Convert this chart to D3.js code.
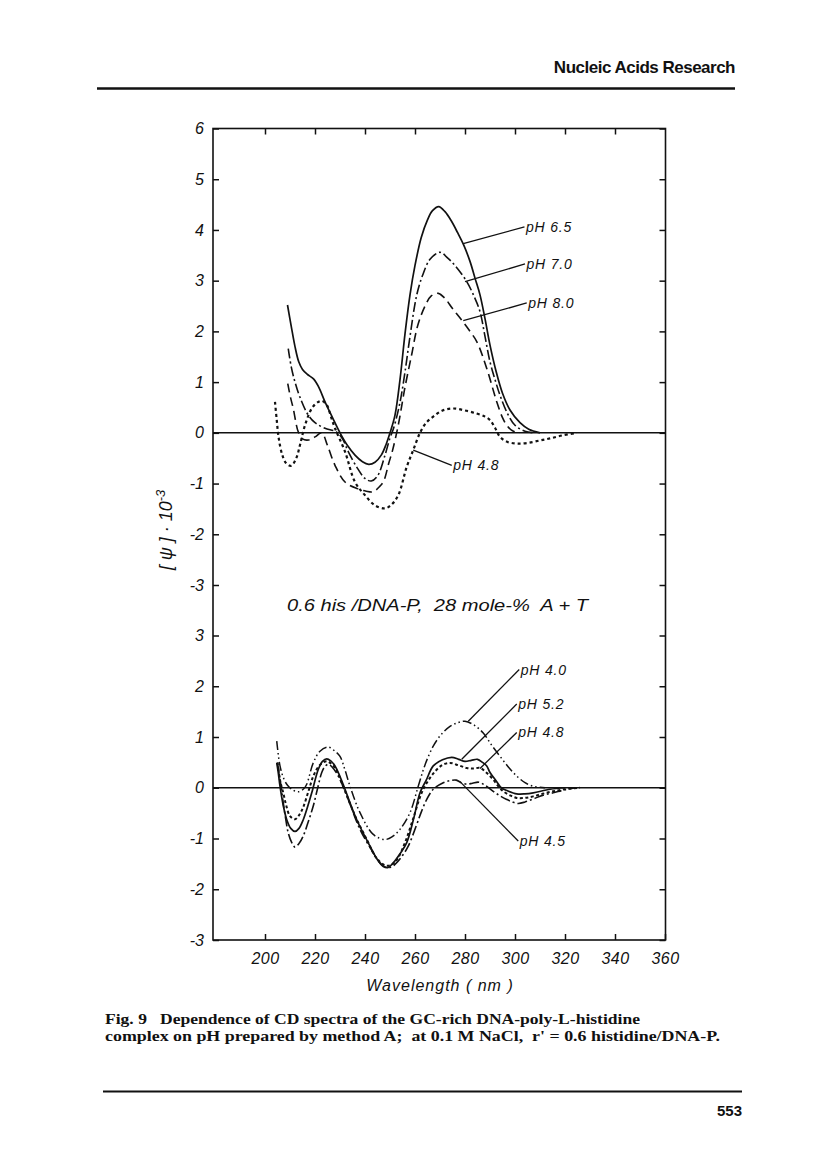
<!DOCTYPE html>
<html>
<head>
<meta charset="utf-8">
<script src="https://cdn.jsdelivr.net/npm/d3@7"></script>
<style>
  body { margin: 0; background: #fff; }
  text { fill: #111; white-space: pre; }
</style>
</head>
<body>
<div id="chart"></div>
<script>
// ---- data (wavelength in nm, [psi] * 10^-3) ----

// upper panel
const ph65Nm  = [209, 210.5, 212, 213.5, 215, 217, 219.5, 221.5, 224, 227, 230, 233, 236, 239, 241.5, 244, 246.5, 248.5, 250, 252, 254, 256, 258, 260, 262.5, 265, 267, 269.5, 272, 274.5, 277, 279.5, 282, 284, 286, 288, 290, 292.5, 295, 298, 302, 305.5, 310];
const ph65Val = [2.52, 2.1, 1.7, 1.4, 1.25, 1.15, 1.06, 0.9, 0.61, 0.3, 0.0, -0.25, -0.44, -0.57, -0.62, -0.58, -0.44, -0.22, 0.0, 0.35, 1.05, 1.95, 2.72, 3.3, 3.85, 4.2, 4.38, 4.46, 4.36, 4.18, 3.95, 3.7, 3.38, 3.05, 2.72, 2.25, 1.73, 1.2, 0.78, 0.45, 0.2, 0.07, 0.0];

const ph70Nm  = [209.3, 210.5, 212, 214, 217.3, 220, 224, 228.5, 231, 233.3, 237, 240, 242.5, 245, 248, 250, 251.5, 254, 256, 258, 260.7, 263, 266, 270, 273, 276, 280.7, 284, 286, 288, 290, 292, 294, 297, 300, 304, 308];
const ph70Val = [1.66, 1.3, 1.0, 0.7, 0.35, 0.2, 0.09, 0.02, -0.12, -0.37, -0.7, -0.9, -0.95, -0.85, -0.44, -0.1, 0.1, 0.6, 1.2, 1.9, 2.72, 3.1, 3.42, 3.56, 3.45, 3.3, 2.98, 2.65, 2.39, 1.9, 1.4, 1.05, 0.74, 0.38, 0.15, 0.03, 0.0];

const ph80Nm  = [209.1, 210.2, 211.3, 213.3, 215, 217.5, 220, 222.7, 225, 228, 232, 237, 240.5, 243.3, 246, 247.5, 249.5, 251, 253.3, 256, 258.7, 261, 264, 266.5, 269.3, 272, 275, 278.7, 282, 284.7, 288.7, 292.7, 295, 296.7, 299, 302];
const ph80Val = [0.97, 0.7, 0.48, 0.02, -0.12, -0.14, -0.08, 0.0, -0.25, -0.64, -0.97, -1.1, -1.15, -1.16, -1.05, -0.95, -0.6, -0.35, 0.15, 0.9, 1.55, 2.1, 2.5, 2.7, 2.75, 2.65, 2.45, 2.22, 2.0, 1.8, 1.27, 0.61, 0.3, 0.15, 0.04, 0.0];

const ph48aNm  = [204, 204.7, 205.5, 207, 208.5, 210.5, 212.5, 214, 216, 218.7, 221, 222.7, 224.7, 226.5, 228, 232, 236, 240, 244, 248, 250.5, 253.3, 256.7, 259.3, 262, 264.5, 267.3, 271, 275.3, 280, 284.7, 288, 290, 292, 294, 297, 300.7, 305, 310, 314, 319, 324.7];
const ph48aVal = [0.61, 0.25, -0.11, -0.45, -0.6, -0.65, -0.5, -0.24, 0.15, 0.48, 0.6, 0.63, 0.55, 0.3, 0.09, -0.37, -0.97, -1.23, -1.43, -1.49, -1.42, -1.23, -0.67, -0.34, 0.0, 0.2, 0.32, 0.44, 0.48, 0.44, 0.38, 0.32, 0.25, 0.1, -0.08, -0.18, -0.21, -0.2, -0.15, -0.11, -0.05, 0.0];

// lower panel
const ph40Nm  = [204.7, 206, 207.5, 209, 211, 213.3, 215.5, 216.7, 219.3, 222, 225.3, 228, 230, 232, 234, 238, 243.3, 248, 251, 254, 258, 261.3, 264, 267.3, 270.5, 274, 277, 280, 283.5, 287.3, 290.5, 294, 297.5, 300.7, 304, 307.3, 312];
const ph40Val = [0.92, 0.43, 0.18, 0.05, -0.04, -0.08, -0.02, 0.07, 0.49, 0.72, 0.8, 0.72, 0.62, 0.35, 0.03, -0.49, -0.92, -1.02, -0.96, -0.82, -0.49, 0.03, 0.45, 0.82, 1.05, 1.21, 1.28, 1.31, 1.24, 1.08, 0.85, 0.62, 0.4, 0.23, 0.1, 0.03, 0.0];

const ph52Nm  = [204.7, 205.3, 206, 207.3, 208.7, 210.3, 212, 213.6, 215.3, 217, 218.7, 221.3, 223, 224.7, 226.3, 228, 230, 232, 236.7, 242, 245, 247.3, 249.3, 251.3, 254, 256.7, 259.5, 262, 264.5, 267.3, 271, 274.7, 277.5, 280, 282.5, 285, 287, 288.7, 290, 292.7, 294.5, 297, 300.7, 304, 307.3, 314, 320];
const ph52Val = [0.49, 0.3, 0.03, -0.35, -0.63, -0.8, -0.86, -0.8, -0.63, -0.38, -0.1, 0.36, 0.52, 0.57, 0.53, 0.43, 0.22, -0.03, -0.63, -1.15, -1.42, -1.55, -1.57, -1.48, -1.3, -1.08, -0.6, -0.1, 0.15, 0.43, 0.55, 0.6, 0.56, 0.52, 0.54, 0.56, 0.5, 0.43, 0.3, 0.12, 0.0, -0.06, -0.12, -0.12, -0.1, -0.03, 0.0];

const ph48bNm  = [205, 206, 207.3, 208.5, 210, 212, 213.5, 215.3, 217.5, 219.5, 222, 224.7, 227, 229, 231.5, 236, 241, 244.5, 248, 250.5, 253, 256, 259, 262.5, 265, 268, 271, 274, 277.5, 280.7, 283.5, 286, 288.5, 291.3, 293.5, 295.3, 298, 300.7, 304, 307.3, 311, 315.3, 320, 326];
const ph48bVal = [0.5, 0.15, -0.1, -0.35, -0.56, -0.62, -0.55, -0.38, -0.05, 0.25, 0.45, 0.52, 0.45, 0.3, 0.0, -0.55, -1.05, -1.38, -1.53, -1.52, -1.4, -1.08, -0.65, -0.12, 0.12, 0.32, 0.45, 0.49, 0.44, 0.39, 0.38, 0.39, 0.3, 0.16, 0.02, -0.07, -0.15, -0.2, -0.2, -0.17, -0.12, -0.07, -0.03, 0.0];

const ph45Nm  = [205, 205.8, 206.5, 207.3, 208.3, 209.3, 210.7, 212, 213.6, 215.3, 217.3, 219.3, 221, 222.7, 224, 225.3, 227, 229.3, 231, 233.3, 238, 243.3, 246, 248, 250, 252, 254.5, 257.3, 260.5, 262.5, 264.7, 267.3, 271.3, 274, 276.5, 278.5, 280.7, 283, 285.5, 288, 291.3, 294, 296.7, 299, 301.3, 304, 307.3, 311, 315.3, 320, 324.7];
const ph45Val = [0.49, 0.25, 0.0, -0.3, -0.62, -0.89, -1.08, -1.17, -1.1, -0.95, -0.67, -0.36, -0.02, 0.3, 0.42, 0.46, 0.4, 0.23, 0.05, -0.23, -0.82, -1.28, -1.48, -1.56, -1.57, -1.51, -1.37, -1.15, -0.75, -0.48, -0.23, -0.03, 0.1, 0.14, 0.15, 0.1, 0.07, 0.09, 0.11, 0.05, -0.07, -0.16, -0.23, -0.28, -0.31, -0.28, -0.22, -0.15, -0.1, -0.04, 0.0];

// axis ticks
const xTicks = [200, 220, 240, 260, 280, 300, 320, 340, 360];
const yTicksTop = [-3, -2, -1, 0, 1, 2, 3, 4, 5, 6];
const yTicksBot = [-3, -2, -1, 0, 1, 2, 3];

// curve labels: text, point on curve (nm, value), end of leader (nm, value)
const topLabels   = ["pH 6.5", "pH 7.0", "pH 8.0", "pH 4.8"];
const topPointNm  = [279.3, 280, 279.3, 259.3];
const topPointVal = [3.73, 2.98, 2.21, -0.34];
const topEndNm    = [303.8, 304, 304.7, 274.7];
const topEndVal   = [4.06, 3.33, 2.56, -0.64];

const botLabels   = ["pH 4.0", "pH 5.2", "pH 4.8", "pH 4.5"];
const botPointNm  = [281.3, 278.7, 286, 278];
const botPointVal = [1.31, 0.56, 0.38, 0.12];
const botEndNm    = [301.7, 300.7, 300.7, 301.3];
const botEndVal   = [2.33, 1.65, 1.09, -1.05];

// ---- layout ----
const W = 816, H = 1152;
const frameLeft = 213, frameRight = 665.5, frameTop = 128.5, frameBottom = 940;

const svg = d3.select("#chart")
  .append("svg")
    .attr("width", W)
    .attr("height", H);

const x = d3.scaleLinear().domain([200, 360]).range([265, 665]);
const yTop = d3.scaleLinear().domain([-3, 6]).range([585, frameTop]);
const yBot = d3.scaleLinear().domain([-3, 3]).range([frameBottom, 635.5]);

const chartFont = "'Liberation Sans', Arial, sans-serif";
const fmt = d => d < 0 ? "-" + Math.abs(d) : String(d);

// page header
svg.append("text")
  .attr("x", 735).attr("y", 73)
  .attr("text-anchor", "end")
  .style("font-family", chartFont)
  .style("font-weight", "bold")
  .style("font-size", "17px")
  .style("letter-spacing", "-0.5px")
  .text("Nucleic Acids Research");
svg.append("line")
  .attr("x1", 97).attr("x2", 735).attr("y1", 88.5).attr("y2", 88.5)
  .attr("stroke", "#111").attr("stroke-width", 2.5);

// frame
svg.append("rect")
  .attr("x", frameLeft).attr("y", frameTop)
  .attr("width", frameRight - frameLeft).attr("height", frameBottom - frameTop)
  .attr("fill", "none").attr("stroke", "#111").attr("stroke-width", 1.6);

// x axes (ticks point inward)
const xAxisBottom = svg.append("g")
  .attr("transform", "translate(0," + frameBottom + ")")
  .call(d3.axisBottom(x).tickValues(xTicks).tickSize(-6).tickPadding(13).tickFormat(fmt));
svg.append("g")
  .attr("transform", "translate(0," + frameTop + ")")
  .call(d3.axisTop(x).tickValues(xTicks.slice(0, -1)).tickSize(-6).tickFormat(""));

// y axes, upper and lower panel
function yAxes(scale, ticks) {
  svg.append("g")
    .attr("transform", "translate(" + frameLeft + ",0)")
    .call(d3.axisLeft(scale).tickValues(ticks).tickSize(-6).tickPadding(9).tickFormat(fmt));
  svg.append("g")
    .attr("transform", "translate(" + frameRight + ",0)")
    .call(d3.axisRight(scale).tickValues(ticks).tickSize(-6).tickFormat(""));
}
yAxes(yTop, yTicksTop);
yAxes(yBot, yTicksBot);

svg.selectAll(".domain").remove();
svg.selectAll(".tick line").attr("stroke", "#111").attr("stroke-width", 1.5);
svg.selectAll(".tick text")
  .style("font-family", chartFont)
  .style("font-style", "italic")
  .style("font-size", "16px")
  .attr("fill", "#111");
xAxisBottom.selectAll(".tick text").style("letter-spacing", "0.5px");

// zero lines
[yTop, yBot].forEach(function (s) {
  svg.append("line")
    .attr("x1", frameLeft).attr("x2", frameRight)
    .attr("y1", s(0)).attr("y2", s(0))
    .attr("stroke", "#111").attr("stroke-width", 1.5);
});

// curves
const series = [
  { nm: ph65Nm,  val: ph65Val,  y: yTop, style: "solid" },
  { nm: ph70Nm,  val: ph70Val,  y: yTop, style: "dashdot" },
  { nm: ph80Nm,  val: ph80Val,  y: yTop, style: "dashed" },
  { nm: ph48aNm, val: ph48aVal, y: yTop, style: "dotted" },
  { nm: ph40Nm,  val: ph40Val,  y: yBot, style: "dashdotdot" },
  { nm: ph52Nm,  val: ph52Val,  y: yBot, style: "solid" },
  { nm: ph48bNm, val: ph48bVal, y: yBot, style: "dotted2" },
  { nm: ph45Nm,  val: ph45Val,  y: yBot, style: "dashdot" }
];
const dashes = {
  solid: null,
  dashed: "9,5",
  dashdot: "10,3,2,3",
  dashdotdot: "9,3,1.5,3,1.5,3",
  dotted: "3,3",
  dotted2: "3,2.5"
};
const widths = { solid: 1.7, dashed: 1.6, dashdot: 1.6, dashdotdot: 1.5, dotted: 2.2, dotted2: 2 };

series.forEach(function (s) {
  const pts = s.nm.map((n, i) => [n, s.val[i]]);
  const line = d3.line()
    .x(d => x(d[0]))
    .y(d => s.y(d[1]))
    .curve(d3.curveCatmullRom.alpha(0.5));
  svg.append("path")
    .datum(pts)
    .attr("d", line)
    .attr("fill", "none")
    .attr("stroke", "#111")
    .attr("stroke-width", widths[s.style])
    .attr("stroke-dasharray", dashes[s.style]);
});

// leaders and curve labels
function labels(texts, pNm, pVal, eNm, eVal, scale) {
  texts.forEach(function (t, i) {
    svg.append("line")
      .attr("x1", x(pNm[i])).attr("y1", scale(pVal[i]))
      .attr("x2", x(eNm[i])).attr("y2", scale(eVal[i]))
      .attr("stroke", "#111").attr("stroke-width", 1.3);
    svg.append("text")
      .attr("x", x(eNm[i]) + 1.5)
      .attr("y", scale(eVal[i]) + 5)
      .style("font-family", chartFont)
      .style("font-style", "italic")
      .style("font-size", "14px")
      .style("letter-spacing", "0.8px")
      .text(t);
  });
}
labels(topLabels, topPointNm, topPointVal, topEndNm, topEndVal, yTop);
labels(botLabels, botPointNm, botPointVal, botEndNm, botEndVal, yBot);

// panel annotation
svg.append("text")
  .attr("x", 287).attr("y", 611)
  .attr("textLength", 301)
  .attr("lengthAdjust", "spacingAndGlyphs")
  .style("font-family", chartFont)
  .style("font-style", "italic")
  .style("font-size", "17px")
  .text("0.6 his /DNA-P,  28 mole-%  A + T");

// axis titles
svg.append("text")
  .attr("x", 440).attr("y", 991)
  .attr("text-anchor", "middle")
  .style("font-family", chartFont)
  .style("font-style", "italic")
  .style("font-size", "16px")
  .style("letter-spacing", "1px")
  .text("Wavelength ( nm )");

const yTitle = svg.append("text")
  .attr("transform", "translate(172,530) rotate(-90)")
  .attr("text-anchor", "middle")
  .style("font-family", chartFont)
  .style("font-style", "italic")
  .style("font-size", "18px");
yTitle.append("tspan").text("[ \u03c8 ] \u00b7 10");
yTitle.append("tspan").attr("dy", -7).style("font-size", "13px").text("-3");

// caption
const capFont = "'Liberation Serif', 'Times New Roman', serif";
svg.append("text")
  .attr("x", 105).attr("y", 1024)
  .attr("textLength", 535)
  .attr("lengthAdjust", "spacingAndGlyphs")
  .style("font-family", capFont)
  .style("font-weight", "bold")
  .style("font-size", "14.5px")
  .text("Fig. 9   Dependence of CD spectra of the GC-rich DNA-poly-L-histidine");
svg.append("text")
  .attr("x", 105).attr("y", 1041)
  .attr("textLength", 615)
  .attr("lengthAdjust", "spacingAndGlyphs")
  .style("font-family", capFont)
  .style("font-weight", "bold")
  .style("font-size", "14.5px")
  .text("complex on pH prepared by method A;  at 0.1 M NaCl,  r' = 0.6 histidine/DNA-P.");

// footer
svg.append("line")
  .attr("x1", 103).attr("x2", 742).attr("y1", 1091.5).attr("y2", 1091.5)
  .attr("stroke", "#111").attr("stroke-width", 2);
svg.append("text")
  .attr("x", 742).attr("y", 1116)
  .attr("text-anchor", "end")
  .style("font-family", chartFont)
  .style("font-weight", "bold")
  .style("font-size", "15px")
  .text("553");
</script>
</body>
</html>
